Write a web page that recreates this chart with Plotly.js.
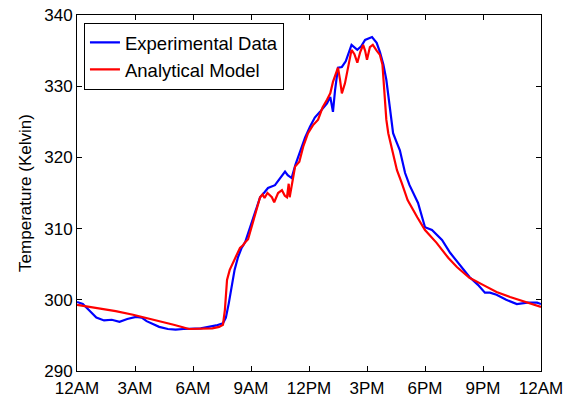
<!DOCTYPE html>
<html>
<head>
<meta charset="utf-8">
<script src="https://cdn.plot.ly/plotly-3.0.1.min.js"></script>
<style>html,body{margin:0;padding:0;background:#fff;}#chart{width:572px;height:397px;}</style>
</head>
<body>
<div id="chart"></div>
<script>
const tickHours = [0, 3, 6, 9, 12, 15, 18, 21, 24];
const tickLabels = ["12AM", "3AM", "6AM", "9AM", "12PM", "3PM", "6PM", "9PM", "12AM"];

const expHours = [0.0, 0.3, 0.6, 1.0, 1.4, 1.8, 2.2, 2.6, 3.05, 3.35, 3.6, 4.0, 4.25, 4.7, 5.1, 5.5, 6.0, 6.4, 6.8, 7.2, 7.55, 7.7, 7.85, 8.0, 8.15, 8.33, 8.5, 8.7, 8.95, 9.2, 9.47, 9.7, 9.88, 10.24, 10.5, 10.76, 10.9, 11.1, 11.3, 11.5, 11.8, 12.05, 12.3, 12.57, 12.93, 13.1, 13.24, 13.35, 13.5, 13.7, 13.9, 14.2, 14.5, 14.7, 14.9, 15.26, 15.5, 15.67, 15.85, 16.0, 16.2, 16.35, 16.55, 16.7, 16.97, 17.2, 17.64, 18.0, 18.36, 18.88, 19.3, 19.8, 20.3, 20.74, 21.1, 21.36, 21.7, 22.2, 22.75, 23.3, 23.8, 24.0];
const expTemps = [299.7, 299.4, 298.6, 297.5, 297.1, 297.2, 296.9, 297.3, 297.6, 297.5, 297.0, 296.5, 296.2, 295.9, 295.8, 295.9, 295.9, 296.0, 296.2, 296.4, 296.7, 297.5, 299.5, 302.0, 304.2, 306.0, 307.2, 308.1, 310.2, 312.3, 314.4, 315.1, 315.7, 316.1, 317.0, 318.0, 317.5, 317.1, 319.0, 320.6, 322.8, 324.3, 325.6, 326.4, 327.6, 328.5, 326.4, 329.5, 332.6, 332.7, 333.5, 335.8, 335.1, 335.6, 336.5, 336.9, 336.1, 334.8, 333.0, 330.9, 326.2, 323.4, 322.0, 321.0, 317.8, 316.1, 313.6, 310.2, 309.8, 308.4, 306.6, 304.9, 303.2, 302.1, 301.0, 301.0, 300.7, 300.0, 299.4, 299.6, 299.6, 299.4];

const modelHours = [0.0, 1.0, 2.0, 2.9, 4.0, 5.0, 5.8, 6.5, 7.0, 7.35, 7.55, 7.65, 7.76, 7.9, 8.17, 8.43, 8.6, 8.7, 8.85, 9.05, 9.3, 9.47, 9.6, 9.7, 9.85, 10.08, 10.2, 10.4, 10.6, 10.75, 10.86, 10.95, 11.0, 11.17, 11.28, 11.5, 11.7, 11.95, 12.2, 12.47, 12.7, 12.93, 13.1, 13.24, 13.4, 13.5, 13.6, 13.7, 13.86, 14.0, 14.2, 14.35, 14.5, 14.65, 14.8, 14.9, 15.0, 15.15, 15.3, 15.5, 15.67, 15.8, 15.9, 16.0, 16.1, 16.3, 16.55, 16.8, 17.1, 17.6, 18.0, 18.6, 19.2, 19.65, 20.3, 21.0, 21.7, 22.4, 23.07, 24.0];
const modelTemps = [299.3, 298.9, 298.4, 297.9, 297.2, 296.5, 295.9, 295.9, 296.0, 296.2, 296.5, 298.6, 302.8, 304.2, 305.9, 307.3, 307.7, 308.1, 308.5, 310.5, 312.6, 314.4, 314.8, 314.3, 315.0, 314.4, 313.7, 315.0, 315.4, 314.6, 314.4, 316.3, 314.4, 317.2, 318.7, 319.4, 321.5, 323.4, 324.5, 325.3, 327.0, 328.1, 329.0, 330.6, 331.8, 332.6, 331.0, 329.0, 330.4, 332.5, 335.1, 334.5, 333.3, 334.8, 335.8, 335.0, 333.7, 335.5, 335.8, 335.0, 334.4, 333.0, 328.5, 325.3, 323.4, 321.0, 318.2, 316.4, 314.0, 311.6, 309.8, 308.0, 305.9, 304.6, 303.1, 302.1, 301.1, 300.4, 299.8, 299.0];

const traces = [
  {x: expHours, y: expTemps, type: 'scatter', mode: 'lines', name: 'Experimental Data',
   line: {color: '#0000ff', width: 2.2}},
  {x: modelHours, y: modelTemps, type: 'scatter', mode: 'lines', name: 'Analytical Model',
   line: {color: '#ff0000', width: 2.2}}
];

const FONT = 'Liberation Sans, Arial, sans-serif';
const axisCommon = {
  showline: true, linecolor: '#000', linewidth: 1, mirror: 'allticks',
  ticks: 'inside', ticklen: 5, tickcolor: '#000', showgrid: false, zeroline: false,
  tickfont: {family: FONT, size: 17, color: '#000'}
};

const layout = {
  width: 572, height: 397,
  margin: {l: 77, r: 31, t: 15, b: 26},
  paper_bgcolor: '#fff', plot_bgcolor: '#fff',
  showlegend: true,
  legend: {x: 0.015, y: 0.978, xanchor: 'left', yanchor: 'top',
    bordercolor: '#000', borderwidth: 1, bgcolor: '#fff', tracegroupgap: 0,
    font: {family: FONT, size: 18.5, color: '#000'}},
  xaxis: Object.assign({}, axisCommon, {range: [0, 24], tickvals: tickHours, ticktext: tickLabels, ticklabelstandoff: 2}),
  yaxis: Object.assign({}, axisCommon, {range: [290, 340], tickvals: [290, 300, 310, 320, 330, 340],
    title: {text: 'Temperature (Kelvin)', font: {family: FONT, size: 17, color: '#000'}, standoff: 8}})
};

Plotly.newPlot('chart', traces, layout, {displayModeBar: false, staticPlot: true});
</script>
</body>
</html>
